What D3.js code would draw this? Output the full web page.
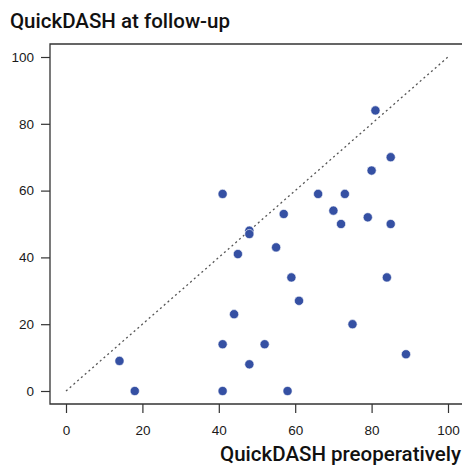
<!DOCTYPE html>
<html>
<head>
<meta charset="utf-8">
<script src="https://cdn.jsdelivr.net/npm/d3@7"></script>
<style>
  html, body { margin: 0; padding: 0; background: #fff; }
  svg { display: block; font-family: "Liberation Sans", Arial, sans-serif; }
</style>
</head>
<body>
<div id="chart"></div>
<script>
// QuickDASH preoperatively vs at follow-up
const preop = [81, 85, 80, 41, 66, 73, 70, 57, 79, 72, 85, 48, 48, 55, 45, 59, 84, 61, 44, 75, 41, 52, 89, 14, 48, 18, 41, 58];
const followUp = [84, 70, 66, 59, 59, 59, 54, 53, 52, 50, 50, 48, 47, 43, 41, 34, 34, 27, 23, 20, 14, 14, 11, 9, 8, 0, 0, 0];
const tickValues = [0, 20, 40, 60, 80, 100];

const W = 462, H = 466;
const box = { left: 50, top: 44, right: 470, bottom: 404 };

const svg = d3.select('#chart').append('svg')
    .attr('width', W)
    .attr('height', H);

const x = d3.scaleLinear().domain([0, 100]).range([66, 448]);
const y = d3.scaleLinear().domain([0, 100]).range([391, 57]);

// plot frame (open on the right, runs off the page)
svg.append('path')
    .attr('d', `M${box.right},${box.top}H${box.left}V${box.bottom}H${box.right}`)
    .attr('fill', 'none')
    .attr('stroke', '#333')
    .attr('stroke-width', 1.3);

// axes
const xAxis = svg.append('g')
    .attr('transform', `translate(0, ${box.bottom})`)
    .call(d3.axisBottom(x).tickValues(tickValues).tickSize(9).tickPadding(12));
const yAxis = svg.append('g')
    .attr('transform', `translate(${box.left}, 0)`)
    .call(d3.axisLeft(y).tickValues(tickValues).tickSize(9).tickPadding(7));

[xAxis, yAxis].forEach(g => {
    g.select('.domain').remove();
    g.selectAll('line').attr('stroke', '#333').attr('stroke-width', 1.2);
    g.selectAll('text')
        .attr('fill', '#1a1a1a')
        .style('font-size', '13.5px')
        .style('font-family', '"Liberation Sans", Arial, sans-serif');
});

// line of equality
svg.append('line')
    .attr('x1', x(0)).attr('y1', y(0))
    .attr('x2', x(100)).attr('y2', y(100))
    .attr('stroke', '#555')
    .attr('stroke-width', 1.3)
    .attr('stroke-dasharray', '2,3');

// points
svg.append('g')
    .selectAll('circle')
    .data(preop.map((d, i) => ({ pre: d, post: followUp[i] })))
    .join('circle')
    .attr('cx', d => x(d.pre))
    .attr('cy', d => y(d.post))
    .attr('r', 4.6)
    .attr('fill', '#3550a3')
    .attr('stroke', '#fff')
    .attr('stroke-width', 0.6);

// titles
svg.append('text')
    .attr('x', 10)
    .attr('y', 28)
    .style('font-family', 'Roboto, sans-serif')
    .style('font-size', '20.5px')
    .style('font-weight', '500')
    .attr('fill', '#111')
    .text('QuickDASH at follow-up');

svg.append('text')
    .attr('x', 461)
    .attr('y', 461)
    .attr('text-anchor', 'end')
    .style('font-family', 'Roboto, sans-serif')
    .style('font-size', '20.5px')
    .style('font-weight', '500')
    .attr('fill', '#111')
    .text('QuickDASH preoperatively');
</script>
</body>
</html>
